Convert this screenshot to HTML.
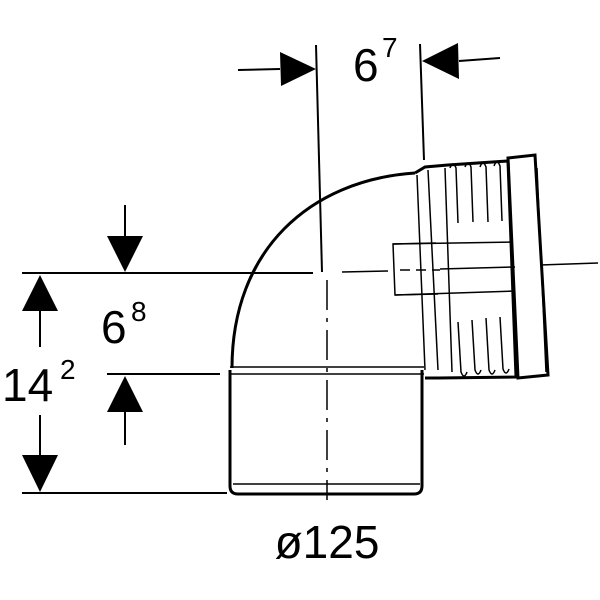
<!DOCTYPE html>
<html><head><style>html,body{margin:0;padding:0;background:#fff}svg{display:block}</style></head>
<body>
<svg width="600" height="600" viewBox="0 0 600 600" xmlns="http://www.w3.org/2000/svg" font-family="Liberation Sans, sans-serif">
<g stroke="#000" stroke-width="2" fill="none">
<line x1="316" y1="45" x2="322" y2="272"/>
<line x1="420" y1="44" x2="424" y2="160"/>
<line x1="238" y1="70" x2="280" y2="69"/>
<line x1="459" y1="61" x2="500" y2="58"/>
<line x1="22" y1="273" x2="313" y2="273"/>
<line x1="107" y1="374" x2="220" y2="374"/>
<line x1="22" y1="493" x2="227" y2="493"/>
<line x1="125" y1="205" x2="125" y2="240"/>
<line x1="125" y1="410" x2="125" y2="445"/>
<line x1="40" y1="310" x2="40" y2="347"/>
<line x1="40" y1="415" x2="40" y2="458"/>
<line x1="342" y1="272" x2="388" y2="271" stroke-width="1.5"/>
<line x1="400" y1="270" x2="440" y2="270" stroke-width="1.5" stroke-dasharray="10,6"/>
<line x1="440" y1="269" x2="515" y2="267" stroke-width="1.5"/>
<line x1="540" y1="265" x2="598" y2="263" stroke-width="1.5"/>
<line x1="327" y1="280" x2="327" y2="500" stroke-width="1.5" stroke-dasharray="30,8,4,8"/>
<path d="M232,368 C232,250 310,180 415,173" stroke-width="3"/>
<path d="M230,370 L230,486 Q230,494 238,494 L414,494 Q422,494 422,486 L422,370" stroke-width="3"/>
<line x1="230" y1="367" x2="424" y2="367" stroke-width="1.5"/>
<line x1="230" y1="374" x2="424" y2="374" stroke-width="1.5"/>
<line x1="233" y1="484" x2="420" y2="484" stroke-width="1.5"/>
<path d="M415,173 L425,167 L448,165 L508,161 L516,377 L438,378 L425,378" stroke-width="3"/>
<line x1="417" y1="175" x2="425" y2="370" stroke-width="1.5"/>
<line x1="428" y1="170" x2="438" y2="370" stroke-width="1.5"/>
<line x1="445" y1="168" x2="452" y2="372" stroke-width="1.5"/>
<path d="M508,158 L535,155 L548,375 L518,378 Z" stroke-width="3"/>
<line x1="537" y1="168" x2="546" y2="372" stroke-width="1.5"/>
<g stroke-width="1.5">
<path d="M450,168 q3,-8 6,0 l2,55"/><path d="M465,167 q3,-8 6,0 l2,55"/><path d="M480,167 q3,-8 6,0 l2,55"/><path d="M494,166 q3,-8 6,0 l2,55"/>
<path d="M458,322 l3,50 q3,8 6,0"/><path d="M472,320 l3,50 q3,8 6,0"/><path d="M486,318 l3,52 q3,8 6,0"/><path d="M500,317 l3,52 q3,8 6,0"/>
</g>
<path d="M436,243 L393,244 L395,295 L438,294" stroke-width="1.5"/>
<line x1="393" y1="244" x2="513" y2="242" stroke-width="1.5"/>
<line x1="395" y1="295" x2="515" y2="291" stroke-width="1.5"/>
</g>
<g fill="#000">
<polygon points="280,52 316,69 281,86"/>
<polygon points="422,61 458,43 459,79"/>
<polygon points="107,236 143,236 125,272"/>
<polygon points="107,412 143,412 125,376"/>
<polygon points="22,311 58,311 40,275"/>
<polygon points="22,455 58,455 40,492"/>
</g>
<g font-size="46" fill="#000">
<text x="353" y="81">6</text><text x="382" y="57" font-size="28">7</text>
<text x="101" y="343">6</text><text x="131" y="321" font-size="28">8</text>
<text x="2" y="401">14</text><text x="60" y="379" font-size="28">2</text>
<text x="327" y="558" text-anchor="middle">ø125</text>
</g>
</svg>
</body></html>
